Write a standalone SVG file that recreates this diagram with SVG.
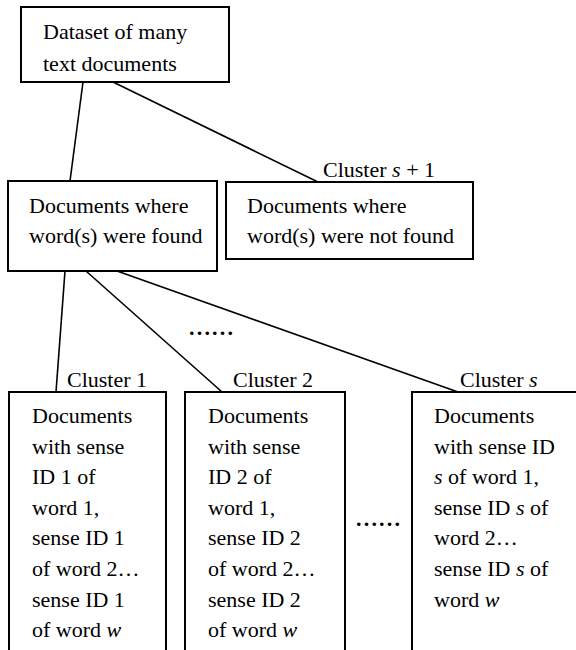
<svg xmlns="http://www.w3.org/2000/svg" width="576" height="650" viewBox="0 0 576 650">
<style>
text{font-family:'Liberation Serif',serif;font-size:22px;fill:#000}
.box{fill:#fff;stroke:#000;stroke-width:2}
.con line{stroke:#000;stroke-width:1.6}
.dots{font-weight:bold;letter-spacing:2.2px}
.it{font-style:italic}
</style>
<rect width="576" height="650" fill="#fff"/>
<g class="con" id="connectors">
<line x1="83" y1="82" x2="70" y2="181"/>
<line x1="113" y1="82" x2="318" y2="182"/>
<line x1="65" y1="271" x2="56" y2="392"/>
<line x1="86" y1="271" x2="222" y2="392"/>
<line x1="117" y1="271" x2="458" y2="392"/>
</g>
<g id="dataset">
<rect class="box" x="21" y="7" width="208" height="75"/>
<text x="43" y="39">Dataset of many</text>
<text x="43" y="71">text documents</text>
</g>
<g id="found">
<rect class="box" x="8" y="181" width="209" height="90"/>
<text x="29" y="213">Documents where</text>
<text x="29" y="243">word(s) were found</text>
</g>
<g id="notfound">
<text x="323" y="177">Cluster <tspan class="it">s</tspan> + 1</text>
<rect class="box" x="226" y="182" width="247" height="77"/>
<text x="247" y="213">Documents where</text>
<text x="247" y="243">word(s) were not found</text>
</g>
<text class="dots" x="189" y="335">......</text>
<g id="cluster1">
<text x="67" y="387">Cluster 1</text>
<rect class="box" x="9" y="392" width="157" height="270"/>
<text x="32" y="423">Documents</text>
<text x="32" y="453.6">with sense</text>
<text x="32" y="484.2">ID 1 of</text>
<text x="32" y="514.8">word 1,</text>
<text x="32" y="545.4">sense ID 1</text>
<text x="32" y="576">of word 2…</text>
<text x="32" y="606.6">sense ID 1</text>
<text x="32" y="637.2">of word <tspan class="it">w</tspan></text>
</g>
<g id="cluster2">
<text x="233" y="387">Cluster 2</text>
<rect class="box" x="185" y="392" width="160" height="270"/>
<text x="208" y="423">Documents</text>
<text x="208" y="453.6">with sense</text>
<text x="208" y="484.2">ID 2 of</text>
<text x="208" y="514.8">word 1,</text>
<text x="208" y="545.4">sense ID 2</text>
<text x="208" y="576">of word 2…</text>
<text x="208" y="606.6">sense ID 2</text>
<text x="208" y="637.2">of word <tspan class="it">w</tspan></text>
</g>
<text class="dots" x="356" y="526">......</text>
<g id="clusters">
<text x="460" y="387">Cluster <tspan class="it">s</tspan></text>
<rect class="box" x="412" y="392" width="200" height="270"/>
<text x="434" y="423">Documents</text>
<text x="434" y="453.6">with sense ID</text>
<text x="434" y="484.2"><tspan class="it">s</tspan> of word 1,</text>
<text x="434" y="514.8">sense ID <tspan class="it">s</tspan> of</text>
<text x="434" y="545.4">word 2…</text>
<text x="434" y="576">sense ID <tspan class="it">s</tspan> of</text>
<text x="434" y="606.6">word <tspan class="it">w</tspan></text>
</g>
</svg>
